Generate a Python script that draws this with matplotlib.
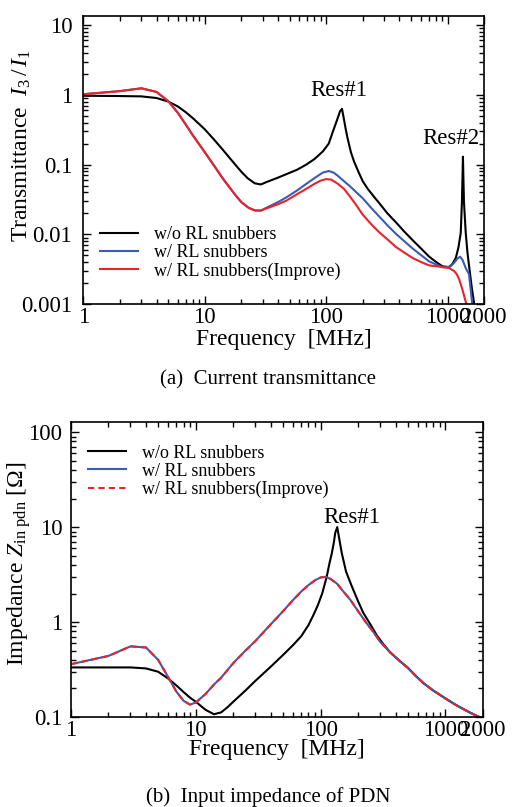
import matplotlib
matplotlib.use('Agg')
import matplotlib.pyplot as plt
from matplotlib.ticker import NullFormatter, FixedLocator, FixedFormatter

plt.rcParams['font.family'] = ['Liberation Serif', 'DejaVu Serif']
plt.rcParams['mathtext.fontset'] = 'custom'
plt.rcParams['mathtext.rm'] = 'Liberation Serif'
plt.rcParams['mathtext.it'] = 'Liberation Serif:italic'

# ── (a) current transmittance I3/I1 ───────────────────────────────────
fa_black = [1, 2, 3, 4, 5, 6, 7, 8, 9, 10, 12, 14, 16, 18, 20, 22.5, 25.8,
            29, 32, 40, 47, 58, 68.5, 80, 94, 105, 113, 122, 130, 135, 140,
            145, 150, 160, 170, 185, 200, 220, 250, 274, 320, 376, 440, 515,
            610, 706, 810, 908, 1030, 1100, 1170, 1230, 1285, 1315, 1340,
            1365, 1413, 1460, 1503, 1580, 1660]
ta_black = [0.97, 0.96, 0.95, 0.9, 0.8, 0.68, 0.56, 0.46, 0.38, 0.32, 0.225,
            0.165, 0.125, 0.098, 0.079, 0.064, 0.054, 0.052, 0.056, 0.065,
            0.073, 0.085, 0.10, 0.12, 0.155, 0.2, 0.29, 0.42, 0.58, 0.63,
            0.45, 0.32, 0.24, 0.15, 0.11, 0.078, 0.058, 0.045, 0.034, 0.028,
            0.02, 0.0149, 0.011, 0.0083, 0.0062, 0.0048, 0.0040, 0.0035,
            0.0034, 0.0038, 0.0046, 0.0065, 0.0105, 0.03, 0.13, 0.03, 0.0105,
            0.0055, 0.0036, 0.0018, 0.001]

fa_blue = [1, 2, 3, 4, 5, 6, 7, 8, 9, 10, 12, 14, 16, 18, 20, 23, 26, 29, 32,
           40, 47, 58, 68.5, 80, 94, 105, 115, 125, 140, 155, 175, 200, 235,
           274, 320, 376, 440, 515, 610, 706, 810, 908, 1000, 1060, 1130,
           1206, 1270, 1330, 1413, 1503, 1600]
ta_blue = [1.02, 1.13, 1.24, 1.1, 0.81, 0.55, 0.37, 0.26, 0.195, 0.15, 0.095,
           0.064, 0.047, 0.036, 0.029, 0.024, 0.022, 0.022, 0.024, 0.029,
           0.034, 0.043, 0.053, 0.064, 0.077, 0.081, 0.077, 0.069, 0.058,
           0.050, 0.041, 0.033, 0.024, 0.018, 0.0135, 0.0102, 0.008, 0.0063,
           0.005, 0.0041, 0.0037, 0.0034, 0.0034, 0.0035, 0.0039, 0.0045,
           0.0048, 0.0043, 0.0033, 0.0027, 0.001]

fa_red = [1, 2, 3, 4, 5, 6, 7, 8, 9, 10, 12, 14, 16, 18, 20, 23, 26, 29, 32,
          40, 47, 58, 68.5, 80, 90, 100, 110, 125, 140, 155, 175, 200, 235,
          274, 320, 376, 440, 515, 610, 706, 810, 908, 1030, 1132, 1190,
          1245, 1330, 1413, 1430]
ta_red = [1.02, 1.13, 1.24, 1.1, 0.81, 0.55, 0.37, 0.26, 0.195, 0.15, 0.095,
          0.064, 0.047, 0.036, 0.029, 0.024, 0.022, 0.022, 0.0235, 0.027,
          0.0305, 0.038, 0.045, 0.053, 0.059, 0.062, 0.061, 0.053, 0.045,
          0.036, 0.027, 0.0192, 0.014, 0.0107, 0.0085, 0.0066, 0.0055,
          0.0046, 0.004, 0.0036, 0.0035, 0.0034, 0.0033, 0.0030, 0.0027,
          0.0023, 0.0016, 0.00108, 0.001]

# ── (b) input impedance of PDN ────────────────────────────────────────
fb_black = [1, 2, 3, 4, 5, 6, 7, 8, 9, 10, 12, 14, 16, 18, 20, 25, 30, 40,
            50, 60, 70, 80, 88, 95, 103, 112, 118, 123, 128, 131, 136, 140,
            148, 160, 178, 200, 220, 250, 283, 320, 361, 430, 500, 580, 668,
            800, 1000, 1200, 1500, 1800, 2000]
zb_black = [0.333, 0.333, 0.333, 0.325, 0.30, 0.255, 0.215, 0.183, 0.16,
            0.145, 0.119, 0.107, 0.112, 0.127, 0.145, 0.19, 0.24, 0.34, 0.45,
            0.57, 0.71, 0.93, 1.2, 1.5, 2.0, 3.0, 4.2, 5.3, 7.0, 8.7, 10.0,
            8.0, 5.3, 3.4, 2.38, 1.65, 1.25, 0.95, 0.72, 0.58, 0.48, 0.39,
            0.33, 0.27, 0.227, 0.19, 0.157, 0.135, 0.115, 0.102, 0.097]

fb_snub = [1, 2, 3, 4, 5, 6, 7, 8, 9, 10, 12, 14, 16, 20, 25, 30, 40, 50, 60,
           70, 80, 90, 100, 110, 120, 135, 150, 173, 200, 230, 266, 300, 361,
           430, 500, 580, 668, 800, 1000, 1200, 1500, 1800, 2000]
zb_snub = [0.36, 0.44, 0.555, 0.54, 0.40, 0.265, 0.185, 0.148, 0.135, 0.142,
           0.175, 0.22, 0.26, 0.37, 0.5, 0.63, 0.95, 1.3, 1.7, 2.1, 2.45,
           2.75, 2.95, 3.0, 2.85, 2.55, 2.15, 1.72, 1.3, 1.0, 0.78, 0.62,
           0.48, 0.39, 0.33, 0.27, 0.227, 0.19, 0.157, 0.135, 0.115, 0.102,
           0.097]

labels = ['w/o RL snubbers', 'w/ RL snubbers', 'w/ RL snubbers(Improve)']
xticks = [1, 10, 100, 1000, 2000]
xticklabels = ['1', '10', '100', '1000', '2000']

BLUE = '#3a5bb0'
RED = '#e8232a'

fig = plt.figure(figsize=(5.25, 8.07), dpi=100)
ax1 = fig.add_axes([0.159, 0.623, 0.763, 0.357])
ax2 = fig.add_axes([0.135, 0.1115, 0.785, 0.3655])


def style(ax, lp, ypad):
    ax.set_xscale('log')
    ax.set_yscale('log')
    ax.set_xlim(1, 2000)
    ax.xaxis.set_major_locator(FixedLocator(xticks))
    ax.xaxis.set_major_formatter(FixedFormatter(xticklabels))
    ax.xaxis.set_minor_formatter(NullFormatter())
    ax.yaxis.set_minor_formatter(NullFormatter())
    ax.tick_params(which='both', direction='in', top=True, right=True,
                   labelsize=16.5, width=1.0)
    ax.tick_params(which='major', length=6)
    ax.tick_params(which='minor', length=3.5)
    ax.tick_params(axis='x', pad=2)
    ax.tick_params(axis='y', pad=ypad)
    for s in ax.spines.values():
        s.set_linewidth(1.2)
    ax.set_xlabel('Frequency  [MHz]', fontsize=17, labelpad=lp)


def legend(ax, y):
    ax.legend(loc='upper left', bbox_to_anchor=(0.042, y), frameon=False,
              fontsize=13, handlelength=2.1, handletextpad=0.9,
              labelspacing=0.05, borderpad=0, borderaxespad=0)


# panel (a)
ax1.plot(fa_black, ta_black, color='black', lw=1.5, label=labels[0])
ax1.plot(fa_blue, ta_blue, color=BLUE, lw=1.5, label=labels[1])
ax1.plot(fa_red, ta_red, color=RED, lw=1.5, label=labels[2])
style(ax1, 1, 8)
ax1.set_ylim(0.001, 13.4)
ax1.set_yticks([0.001, 0.01, 0.1, 1, 10])
ax1.set_yticklabels(['0.001', '0.01', '0.1', '1', '10'])
ax1.set_ylabel(r'Transmittance  $I_3\,/\,I_1$', fontsize=17)
ax1.yaxis.set_label_coords(-0.125, 0.55)
ax1.text(128, 1.15, 'Res#1', fontsize=16.5, ha='center', va='center')
ax1.text(1060, 0.235, 'Res#2', fontsize=16.5, ha='center', va='center')
legend(ax1, 0.27)

# panel (b)
ax2.plot(fb_black, zb_black, color='black', lw=1.5, label=labels[0])
ax2.plot(fb_snub, zb_snub, color=BLUE, lw=1.5, label=labels[1])
ax2.plot(fb_snub, zb_snub, color=RED, lw=1.5, ls=(0, (3, 2)),
         label=labels[2])
style(ax2, -1, 6)
ax2.set_ylim(0.1, 128)
ax2.set_yticks([0.1, 1, 10, 100])
ax2.set_yticklabels(['0.1', '1', '10', '100'])
ax2.set_ylabel(r'Impedance $Z_{\mathrm{in\ pdn}}$ [Ω]', fontsize=17)
ax2.yaxis.set_label_coords(-0.092, 0.52)
ax2.text(178, 12.5, 'Res#1', fontsize=16.5, ha='center', va='center')
legend(ax2, 0.923)

fig.text(0.51, 0.529, '(a)  Current transmittance', fontsize=15,
         ha='center', va='center')
fig.text(0.51, 0.0124, '(b)  Input impedance of PDN', fontsize=15,
         ha='center', va='center')

fig.savefig('out.png', dpi=100, facecolor='white')
